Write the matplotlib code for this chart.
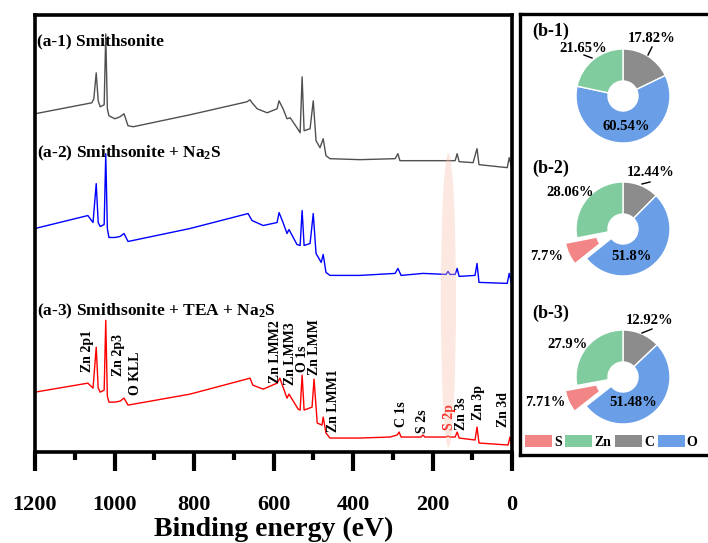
import matplotlib.pyplot as plt
from matplotlib.patches import Ellipse, Patch

plt.rcParams['font.family'] = ['Liberation Serif', 'DejaVu Serif']
plt.rcParams['font.weight'] = 'bold'
plt.rcParams['axes.labelweight'] = 'bold'
plt.rcParams['mathtext.fontset'] = 'custom'
plt.rcParams['mathtext.rm'] = 'Liberation Serif:bold'
plt.rcParams['mathtext.it'] = 'Liberation Serif:bold'
plt.rcParams['mathtext.bf'] = 'Liberation Serif:bold'

# XPS survey spectra (binding energy in eV, intensity in a.u.)
e_a1 = [1200, 1057, 1052, 1046, 1041, 1036, 1026, 1022, 1018, 1014, 999, 986, 976, 966, 953,
        810, 667, 659, 654, 641, 616, 591, 586, 581, 576, 566, 558, 541, 533, 528, 523, 508,
        500, 493, 483, 475, 468, 458, 382, 294, 287, 282, 143, 138, 133, 98, 88, 83, 12, 7, 0]
i_a1 = [59, 70, 74, 100, 72, 66, 68, 139, 64, 57, 54, 56, 59, 47, 46,
        58, 71, 73, 70, 64, 60, 64, 72, 68, 64, 54, 55, 45, 40, 96, 42, 44,
        72, 32, 25, 34, 17, 14, 13, 14, 19, 12, 12, 19, 11, 10, 24, 8, 5, 15, 4]

e_a2 = [1200, 1067, 1054, 1046, 1041, 1036, 1026, 1022, 1018, 1014, 999, 986, 976, 966,
        810, 664, 654, 626, 591, 586, 581, 576, 566, 561, 541, 533, 528, 523, 508,
        500, 493, 480, 475, 468, 458, 382, 294, 287, 279, 224, 166, 161, 156, 143, 138, 133,
        93, 88, 83, 12, 7, 0]
i_a2 = [59, 72, 65, 104, 65, 61, 63, 134, 59, 50, 50, 51, 54, 46,
        59, 74, 67, 62, 65, 75, 70, 65, 54, 58, 43, 42, 77, 42, 44,
        74, 34, 25, 33, 15, 12, 12, 14, 19, 12, 14, 13, 16, 13, 13, 19, 11,
        12, 24, 5, 4, 14, 2]

e_a3 = [1200, 1067, 1054, 1046, 1041, 1036, 1026, 1022, 1018, 1014, 999, 986, 976, 966,
        810, 659, 652, 626, 591, 584, 576, 566, 561, 538, 533, 528, 523, 503,
        498, 490, 478, 475, 468, 458, 382, 307, 289, 284, 279, 229, 224, 219,
        166, 161, 156, 143, 138, 133, 93, 88, 83, 10, 5, 0]
i_a3 = [60, 69, 64, 105, 64, 60, 62, 132, 56, 50, 50, 51, 54, 47,
        58, 74, 67, 63, 69, 74, 65, 54, 58, 43, 42, 77, 42, 45,
        73, 29, 27, 35, 19, 14, 14, 15, 17, 20, 15, 15, 17, 15,
        15, 16, 15, 15, 20, 14, 12, 25, 9, 7, 15, 4]

peak_names = ['Zn 2p1', 'Zn 2p3', 'O KLL', 'Zn LMM2', 'Zn LMM3', 'O 1s', 'Zn LMM',
              'Zn LMM1', 'C 1s', 'S 2s', 'S 2p', 'Zn 3s', 'Zn 3p', 'Zn 3d']
peak_e = [1067, 991, 948, 596, 558, 528, 496, 450, 279, 224, 158, 128, 85, 22]

# element fractions (%) from the pies
elements = ['C', 'O', 'S', 'Zn']
pie_b1 = [17.82, 60.54, 0, 21.65]
pie_b2 = [12.44, 51.8, 7.7, 28.06]
pie_b3 = [12.92, 51.48, 7.71, 27.9]
pie_colors = {'C': '#8c8c8c', 'O': '#6a9fe8', 'S': '#f28585', 'Zn': '#80cc9e'}

# layout
offsets = [280, 165, 0]
label_y = [80, 76, 57, 69, 67, 80, 77, 20, 25, 19, 22, 22, 32, 25]

fig = plt.figure(figsize=(7.08, 5.43), dpi=100)
ax = fig.add_axes([35/708, 1-452/543, 477/708, 437/543])

ax.plot(e_a1, [v + offsets[0] for v in i_a1], color='#505050', lw=1)
ax.plot(e_a2, [v + offsets[1] for v in i_a2], color='#0000ff', lw=1)
ax.plot(e_a3, [v + offsets[2] for v in i_a3], color='#ff0000', lw=1)

ax.add_patch(Ellipse((160, 152), 38, 295, facecolor='#f7bfa8', alpha=0.35,
                     edgecolor='none', zorder=5))

ax.text(1195, 412, '(a-1) Smithsonite', fontsize=12.5, va='center', ha='left')
ax.text(1195, 299, '(a-2) Smithsonite + Na$_2$S', fontsize=12.5, va='center', ha='left')
ax.text(1195, 141, '(a-3) Smithsonite + TEA + Na$_2$S', fontsize=12.5, va='center', ha='left')

for name, e, y in zip(peak_names, peak_e, label_y):
    col = 'red' if name == 'S 2p' else 'black'
    ax.text(e, y, name, rotation=90, fontsize=10, ha='center', va='bottom', color=col)

ax.set_xlim(1200, 0)
ax.set_ylim(0, 438)
ax.set_yticks([])
ax.set_xticks(range(1200, -1, -200))
ax.set_xticks(range(1100, 0, -200), minor=True)
ax.tick_params(axis='x', which='major', direction='out', length=14, width=3,
               labelsize=16, pad=17)
ax.tick_params(axis='x', which='minor', direction='out', length=6, width=3)
ax.set_xlabel('Binding energy (eV)', fontsize=20, fontweight='bold', labelpad=1)
for s in ax.spines.values():
    s.set_linewidth(2.6)

# right panel with donut charts
axp = fig.add_axes([520/708, 1-455/543, 220/708, 441/543])
centers = [(103, 359), (103, 226), (103, 78)]
for vals, cen in zip([pie_b1, pie_b2, pie_b3], centers):
    keep = [k for k, v in enumerate(vals) if v > 0]
    axp.pie([vals[k] for k in keep],
            colors=[pie_colors[elements[k]] for k in keep],
            explode=[12.5 if elements[k] == 'S' else 0 for k in keep],
            startangle=90, counterclock=False, center=cen, radius=47, frame=True,
            wedgeprops=dict(width=32, edgecolor='white', linewidth=1))

axp.set_xlim(0, 220)
axp.set_ylim(0, 441)
axp.set_aspect('auto')
axp.set_xticks([])
axp.set_yticks([])
for s in axp.spines.values():
    s.set_linewidth(2.4)

for t, y in zip(['(b-1)', '(b-2)', '(b-3)'], [424, 287, 142]):
    axp.text(12, y, t, fontsize=13, ha='left', va='center')

pct_text = [('17.82%', 132, 417), ('21.65%', 63, 407), ('60.54%', 106, 329),
            ('12.44%', 131, 282), ('28.06%', 50, 263), ('7.7%', 27, 199), ('51.8%', 111, 198),
            ('12.92%', 130, 134), ('27.9%', 48, 111), ('7.71%', 25, 52), ('51.48%', 113, 52)]
for t, x, y in pct_text:
    axp.text(x, y, t, fontsize=10.5, ha='center', va='center')

leaders = [((132, 128), (408, 400)), ((64, 72), (400, 397)),
           ((130, 122), (273, 271)), ((132, 122), (126, 122))]
for xs, ys in leaders:
    axp.plot(xs, ys, color='black', lw=1)

handles = [Patch(facecolor=pie_colors[el], edgecolor='none') for el in ['S', 'Zn', 'C', 'O']]
axp.legend(handles, ['S', 'Zn', 'C', 'O'], loc='lower left', bbox_to_anchor=(5, 6),
           bbox_transform=axp.transData, ncol=4, frameon=False, fontsize=10,
           handlelength=1.95, handleheight=0.95, handletextpad=0.15, columnspacing=0.25,
           borderpad=0, borderaxespad=0)

fig.savefig('out.png', dpi=100)
